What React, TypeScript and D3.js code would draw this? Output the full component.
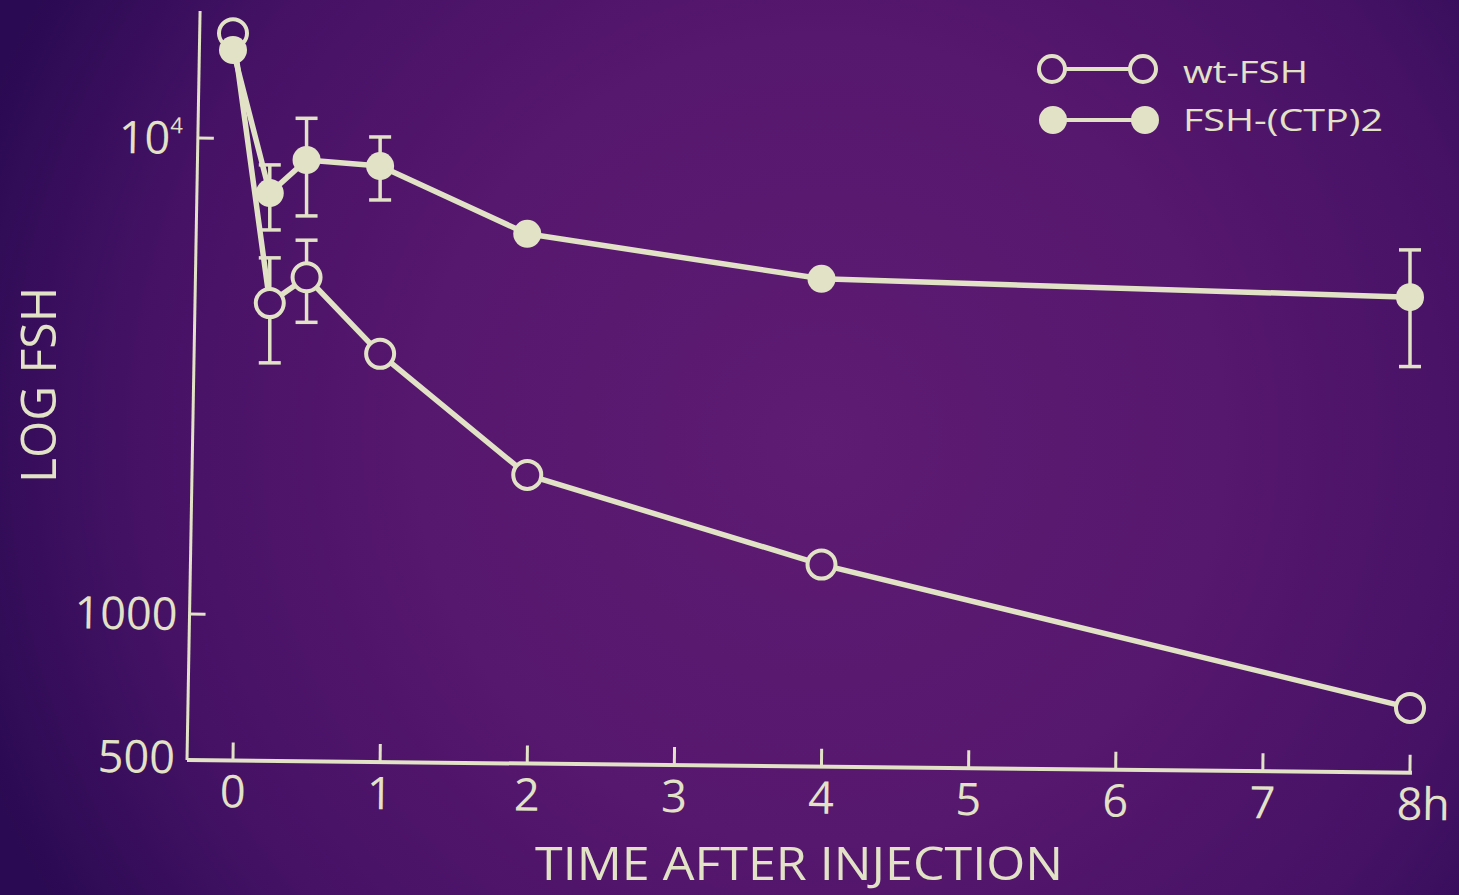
import React from "react";
import * as d3 from "d3";

// ---- data ----
const times = [0, 0.25, 0.5, 1, 2, 4, 8];
const wtFsh = [16600, 4500, 5100, 3520, 1960, 1270, 635];
const ctpFsh = [15300, 7660, 8990, 8730, 6290, 5060, 4630];

const wtErrTimes = [0.25, 0.5];
const wtErrLow = [3370, 4100];
const wtErrHigh = [5600, 6100];

const ctpErrTimes = [0.25, 0.5, 1, 8];
const ctpErrLow = [6410, 6860, 7410, 3310];
const ctpErrHigh = [8780, 11000, 10050, 5820];

const xTicks = [0, 1, 2, 3, 4, 5, 6, 7, 8];
const xTickLabels = ["0", "1", "2", "3", "4", "5", "6", "7", "8h"];
const yTickValues = [10000, 1000];
const yLabelValues = [10000, 1000, 500];
const yLabels = ["10", "1000", "500"];

const legendNames = ["wt-FSH", "FSH-(CTP)2"];
const xTitle = "TIME AFTER INJECTION";
const yTitle = "LOG FSH";

const W = 1459;
const H = 895;
const CREAM = "#e2e2c6";
const FONT = "'Open Sans', 'DejaVu Sans', sans-serif";

export default function App() {
  const x = d3.scaleLinear().domain([0, 8]).range([233, 1410]);
  const y = d3.scaleLog().domain([1000, 10000]).range([614, 138]);
  const X0 = 187;
  const Y0 = 760;
  const yTop = y(18500);

  const line = d3
    .line<number>()
    .x((_, i) => x(times[i]))
    .y((d) => y(d));

  const errBar = (t: number, lo: number, hi: number, key: string) => (
    <g key={key} stroke={CREAM} strokeWidth={3.5}>
      <line x1={x(t)} x2={x(t)} y1={y(lo)} y2={y(hi)} />
      <line x1={x(t) - 11} x2={x(t) + 11} y1={y(lo)} y2={y(lo)} />
      <line x1={x(t) - 11} x2={x(t) + 11} y1={y(hi)} y2={y(hi)} />
    </g>
  );

  return (
    <svg
      width={W}
      height={H}
      style={{ position: "absolute", left: 0, top: 0, display: "block" }}
      fontFamily={FONT}
    >
      <defs>
        <radialGradient id="bg" gradientUnits="userSpaceOnUse" cx={820} cy={440} r={900}>
          <stop offset="0" stopColor="#5e1c72" />
          <stop offset="0.45" stopColor="#56176e" />
          <stop offset="0.75" stopColor="#461266" />
          <stop offset="1" stopColor="#2a0a52" />
        </radialGradient>
      </defs>
      <rect x={0} y={0} width={W} height={H} fill="url(#bg)" />

      {/* y axis */}
      <g transform={`rotate(1, ${X0}, ${Y0})`}>
        <line x1={X0} x2={X0} y1={Y0} y2={yTop} stroke={CREAM} strokeWidth={3} />
        {yTickValues.map((v) => (
          <line key={v} x1={X0} x2={X0 + 16} y1={y(v)} y2={y(v)} stroke={CREAM} strokeWidth={3} />
        ))}
        {yLabelValues.map((v, i) => (
          <text
            key={v}
            x={v === 10000 ? X0 - 15 : X0 - 12}
            y={y(v)}
            dy="0.36em"
            textAnchor="end"
            fill={CREAM}
            fontSize={45}
          >
            {yLabels[i]}
            {v === 10000 ? (
              <tspan fontSize={22} dy="-0.95em">
                4
              </tspan>
            ) : null}
          </text>
        ))}
      </g>

      {/* x axis */}
      <g transform={`rotate(0.6, ${X0}, ${Y0})`}>
        <line x1={X0} x2={x(8) + 2} y1={Y0} y2={Y0} stroke={CREAM} strokeWidth={4} />
        {xTicks.map((t) => (
          <line key={t} x1={x(t)} x2={x(t)} y1={Y0 + 1} y2={Y0 - 18} stroke={CREAM} strokeWidth={3} />
        ))}
        {xTicks.map((t, i) => (
          <text
            key={t}
            x={x(t)}
            y={Y0 + 47}
            textAnchor={t === 8 ? "start" : "middle"}
            dx={t === 8 ? "-0.29em" : 0}
            fill={CREAM}
            fontSize={45}
          >
            {xTickLabels[i]}
          </text>
        ))}
      </g>

      {/* axis titles */}
      <text
        x={535}
        y={880}
        fill={CREAM}
        fontSize={46}
        textLength={528}
        lengthAdjust="spacingAndGlyphs"
      >
        {xTitle}
      </text>
      <text
        transform="translate(56, 385) rotate(-90)"
        textAnchor="middle"
        fill={CREAM}
        fontSize={50}
        textLength={196}
        lengthAdjust="spacingAndGlyphs"
      >
        {yTitle}
      </text>

      {/* lines */}
      <path d={line(wtFsh) || ""} fill="none" stroke={CREAM} strokeWidth={5.5} strokeLinejoin="round" />
      <path d={line(ctpFsh) || ""} fill="none" stroke={CREAM} strokeWidth={5.5} strokeLinejoin="round" />

      {/* error bars */}
      {wtErrTimes.map((t, i) => errBar(t, wtErrLow[i], wtErrHigh[i], "we" + i))}
      {ctpErrTimes.map((t, i) => errBar(t, ctpErrLow[i], ctpErrHigh[i], "ce" + i))}

      {/* markers */}
      {wtFsh.map((v, i) => (
        <circle
          key={"w" + i}
          cx={x(times[i])}
          cy={y(v)}
          r={14}
          fill="url(#bg)"
          stroke={CREAM}
          strokeWidth={4}
        />
      ))}
      {ctpFsh.map((v, i) => (
        <circle key={"c" + i} cx={x(times[i])} cy={y(v)} r={14} fill={CREAM} />
      ))}

      {/* legend */}
      <g>
        <line x1={1052} x2={1143} y1={69} y2={69} stroke={CREAM} strokeWidth={4} />
        <circle cx={1052} cy={69} r={13} fill="url(#bg)" stroke={CREAM} strokeWidth={4} />
        <circle cx={1143} cy={69} r={13} fill="url(#bg)" stroke={CREAM} strokeWidth={4} />
        <text x={1183} y={83} fill={CREAM} fontSize={31} textLength={125} lengthAdjust="spacingAndGlyphs">
          {legendNames[0]}
        </text>
        <line x1={1053} x2={1145} y1={120} y2={120} stroke={CREAM} strokeWidth={4} />
        <circle cx={1053} cy={120} r={14} fill={CREAM} />
        <circle cx={1145} cy={120} r={14} fill={CREAM} />
        <text x={1183} y={131} fill={CREAM} fontSize={31} textLength={200} lengthAdjust="spacingAndGlyphs">
          {legendNames[1]}
        </text>
      </g>
    </svg>
  );
}
